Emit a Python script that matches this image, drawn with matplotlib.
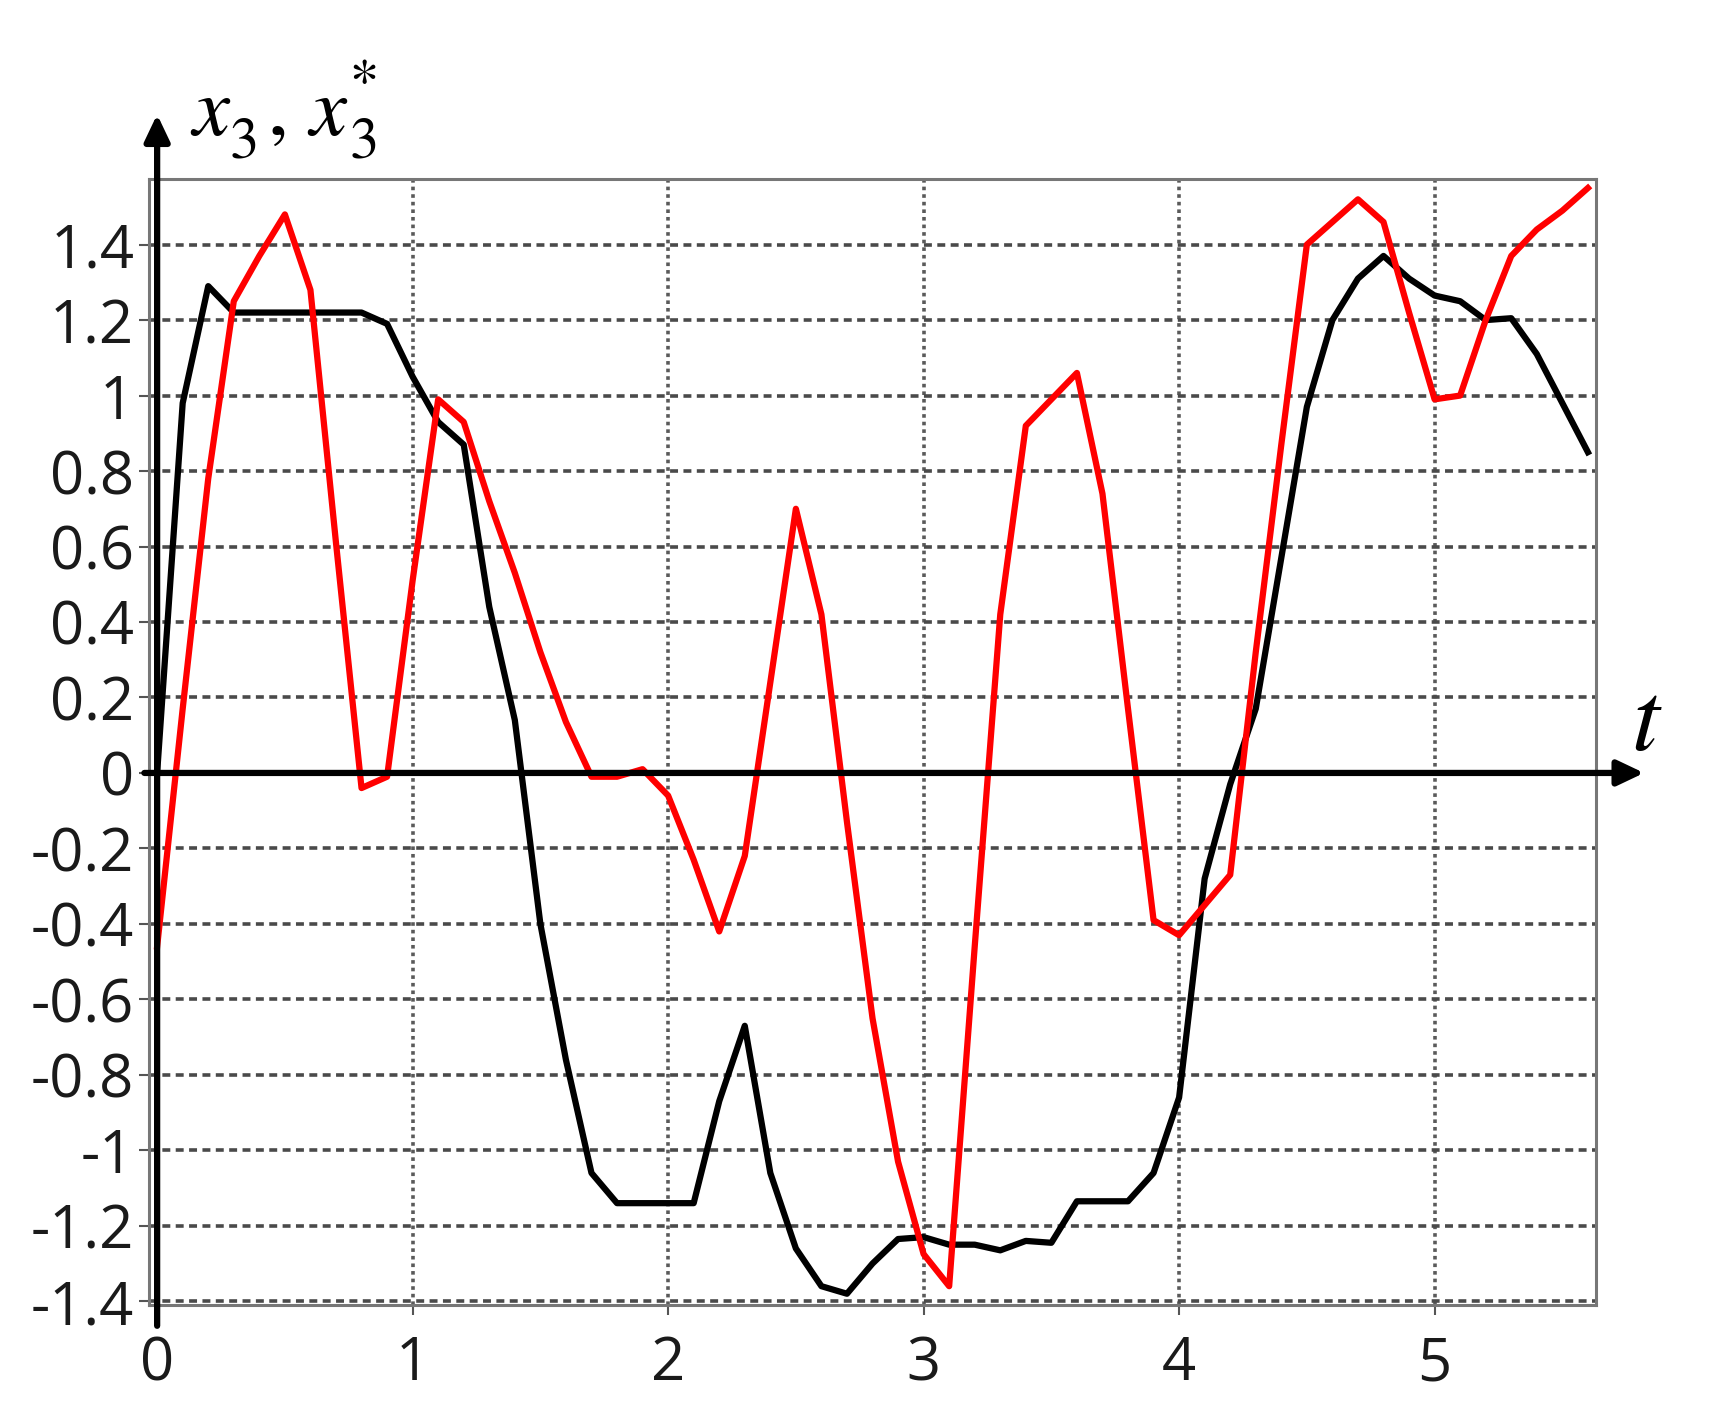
"""Trajectories x3 and x3* over time."""

import matplotlib.pyplot as plt
from matplotlib.patches import ArrowStyle
import numpy as np

plt.rcParams['mathtext.fontset'] = 'stix'
plt.rcParams['font.family'] = ['Open Sans', 'DejaVu Sans']

# samples every 0.1 from t = 0 to 5.6
t = np.arange(57) * 0.1

x3 = [0.0, 0.98, 1.29, 1.22, 1.22, 1.22, 1.22, 1.22, 1.22, 1.19,
      1.05, 0.93, 0.87, 0.44, 0.14, -0.40, -0.76, -1.06, -1.14, -1.14,
      -1.14, -1.14, -0.87, -0.67, -1.06, -1.26, -1.36, -1.38, -1.30, -1.235,
      -1.23, -1.25, -1.25, -1.265, -1.24, -1.245, -1.135, -1.135, -1.135, -1.06,
      -0.86, -0.28, -0.03, 0.17, 0.57, 0.97, 1.20, 1.31, 1.37, 1.31,
      1.265, 1.25, 1.20, 1.205, 1.11, 0.98, 0.85]

x3_star = [-0.46, 0.17, 0.78, 1.25, 1.37, 1.48, 1.28, 0.61, -0.04, -0.01,
           0.51, 0.99, 0.93, 0.72, 0.53, 0.32, 0.135, -0.01, -0.01, 0.01,
           -0.06, -0.23, -0.42, -0.22, 0.24, 0.70, 0.42, -0.13, -0.65, -1.03,
           -1.275, -1.36, -0.46, 0.42, 0.92, 0.99, 1.06, 0.74, 0.17, -0.39,
           -0.43, -0.35, -0.27, 0.32, 0.87, 1.40, 1.46, 1.52, 1.46, 1.22,
           0.99, 1.00, 1.20, 1.37, 1.44, 1.49, 1.55]

yticks = [-1.4, -1.2, -1.0, -0.8, -0.6, -0.4, -0.2, 0.0,
          0.2, 0.4, 0.6, 0.8, 1.0, 1.2, 1.4]
ytick_labels = ['-1.4', '-1.2', '-1', '-0.8', '-0.6', '-0.4', '-0.2', '0',
                '0.2', '0.4', '0.6', '0.8', '1', '1.2', '1.4']
xticks = [0, 1, 2, 3, 4, 5]
xtick_labels = ['0', '1', '2', '3', '4', '5']


def main():
    fig = plt.figure(figsize=(17.24, 14.15), dpi=100)
    ax = fig.add_axes([0.0867, 0.0777, 0.8388, 0.7961])

    ax.plot(t, x3, color='black', lw=4.5, zorder=4)
    ax.plot(t, x3_star, color='red', lw=4.5, zorder=5)

    ax.set_xlim(-0.03, 5.63)
    ax.set_ylim(-1.41, 1.575)
    ax.set_xticks(xticks)
    ax.set_xticklabels(xtick_labels)
    ax.set_yticks(yticks)
    ax.set_yticklabels(ytick_labels)

    ax.yaxis.grid(True, ls=(0, (2.2, 1.5)), color='#4a4a4a', lw=2.6)
    ax.xaxis.grid(True, ls=(0, (1, 1.1)), color='#5a5a5a', lw=2.6)
    ax.set_axisbelow(True)
    for sp in ax.spines.values():
        sp.set_color('#777777')
        sp.set_linewidth(2.2)

    ax.tick_params(direction='out', length=7, width=1.5, color='#555555',
                   labelsize=43, labelcolor='#1a1a1a')
    ax.tick_params(axis='y', pad=4)
    ax.tick_params(axis='x', pad=14)

    # coordinate axes with arrows
    head = ArrowStyle('-|>', head_length=0.8, head_width=0.38)
    ax.annotate('', xy=(0, 1.745), xytext=(0, -1.465),
                arrowprops=dict(arrowstyle=head, lw=4.5, color='black',
                                shrinkA=0, shrinkB=0, mutation_scale=20),
                annotation_clip=False, zorder=6)
    ax.annotate('', xy=(5.82, 0), xytext=(-0.05, 0),
                arrowprops=dict(arrowstyle=head, lw=4.5, color='black',
                                shrinkA=0, shrinkB=0, mutation_scale=20),
                annotation_clip=False, zorder=6)

    # axis label "x3 , x3*" assembled piece by piece
    lab = dict(ha='left', va='baseline', clip_on=False)
    ax.text(0.128, 1.69, r'$x$', fontsize=60, **lab)
    ax.text(0.282, 1.632, r'$3$', fontsize=42, **lab)
    ax.text(0.43, 1.69, r'$,$', fontsize=60, **lab)
    ax.text(0.586, 1.69, r'$x$', fontsize=60, **lab)
    ax.text(0.750, 1.632, r'$3$', fontsize=42, **lab)
    ax.text(0.805, 1.863, r'$\ast$', fontsize=40, ha='center', va='center',
            clip_on=False)
    ax.text(5.83, 0.13, r'$t$', fontsize=72, ha='center', va='center',
            clip_on=False)

    fig.savefig('out.png', dpi=100)


if __name__ == '__main__':
    main()
